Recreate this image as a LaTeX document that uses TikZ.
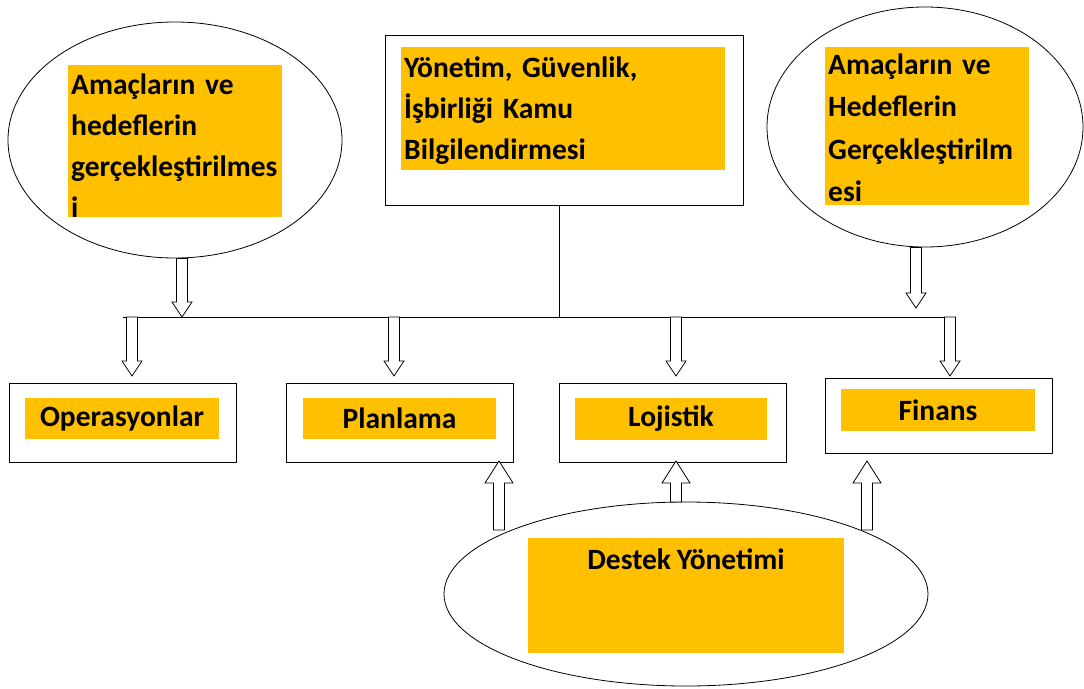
\documentclass[tikz,border=0pt]{standalone}
\usepackage{fontspec}
\setmainfont{Carlito}[WordSpace=0.85]
\usetikzlibrary{shapes.geometric,calc}
\definecolor{gold}{HTML}{FFC000}
\hyphenpenalty=10000
\tikzset{
	frame/.style={draw=black, line width=1pt, fill=white, inner sep=0pt},
	oval/.style={frame, ellipse, line width=0.8pt},
	tag/.style={fill=gold, inner xsep=3pt, inner ysep=0pt, text=black,
		font=\fontsize{29.5}{41}\selectfont\bfseries},
	blockarrow/.style={draw=black, line width=0.8pt, fill=white, line join=miter},
	bus/.style={draw=black, line width=1pt}
}
% #1 half head width, #2 head length, #3 tail, #4 tip (vertical arrows)
\newcommand{\hollowarrow}[4]{%
	\draw[blockarrow] let \p1=(#3), \p2=(#4), \p3=($(#4)!#2pt!(#3)$) in
		({\x1-5.5pt},\y1) -- ({\x1-5.5pt},\y3) -- ({\x1-#1pt},\y3) -- (\x1,\y2)
		-- ({\x1+#1pt},\y3) -- ({\x1+5.5pt},\y3) -- ({\x1+5.5pt},\y1) -- cycle;}
\begin{document}
\begin{tikzpicture}[x=1pt, y=-1pt]
	\useasboundingbox[fill=white] (0,0) rectangle (1084,688);
	\node[oval, minimum width=334, minimum height=236] (lgoal) at (175,140) {};
	\node[tag, anchor=north west, text width=208, text height=29, text depth=123, align=left] (lgoal-tag) at (68,65)
		{Amaçların ve\\hedeflerin\\gerçekleştirilmes\\i};
	\node[frame, minimum width=358, minimum height=170] (cmd) at (564,120) {};
	\node[tag, anchor=north west, text width=318, text height=30, text depth=93, align=left] (cmd-tag) at (401,47)
		{Yönetim, Güvenlik,\\İşbirliği Kamu\\Bilgilendirmesi};
	\node[oval, minimum width=316, minimum height=240] (rgoal) at (925,127) {};
	\node[tag, anchor=north west, text width=198, text height=27, text depth=131, align=left,
		font=\fontsize{29.5}{42.5}\selectfont\bfseries] (rgoal-tag) at (825,47)
		{Amaçların ve\\Hedeflerin\\Gerçekleştirilm\\esi};
	\node[frame, minimum width=227, minimum height=79] (ops) at (122.5,423) {};
	\node[tag, minimum width=194, minimum height=41] (ops-tag) at (122,418) {Operasyonlar};
	\node[frame, minimum width=227, minimum height=79] (plan) at (399.5,423) {};
	\node[tag, minimum width=193, minimum height=41] (plan-tag) at (399.5,418) {Planlama};
	\node[frame, minimum width=227, minimum height=79] (log) at (672.5,423) {};
	\node[tag, minimum width=192, minimum height=42] (log-tag) at (671,419) {Lojistik};
	\node[frame, minimum width=227, minimum height=75] (fin) at (938.5,415.5) {};
	\node[tag, minimum width=194, minimum height=42] (fin-tag) at (938,410) {Finans};
	\node[oval, minimum width=484, minimum height=184] (help) at (686,594) {};
	\node[tag, anchor=north, minimum width=316, text height=31, text depth=84] (help-tag) at (686,538)
		{Destek Yönetimi};
	\coordinate (bus-w) at (123,317);
	\coordinate (bus-e) at (944,317);
	\coordinate (bus-c) at (559,317);
	\coordinate (lhit) at (182,317);
	\coordinate (rhit) at (916,308);
	\foreach \k/\x in {ops/132, plan/394, log/676, fin/950} {
		\coordinate (\k-drop) at (\x,317);
		\coordinate (\k-tip) at (\x,376);
	}
	\foreach \k/\x/\y in {plan/499/530, log/676/502, fin/867/530} {
		\coordinate (\k-base) at (\x,\y);
		\coordinate (\k-up) at (\x,461);
	}
	\draw[bus] (bus-w) -- (bus-e);
	\draw[bus] (bus-c |- cmd.south) -- (bus-c);
	\hollowarrow{10}{15}{lhit |- lgoal.south}{lhit}
	\hollowarrow{10}{15}{rhit |- rgoal.south}{rhit}
	\foreach \k in {ops, plan, log, fin} {
		\hollowarrow{10}{15}{\k-drop}{\k-tip}
	}
	\foreach \k in {plan, log, fin} {
		\hollowarrow{14}{22}{\k-base}{\k-up}
	}
\end{tikzpicture}
\end{document}
